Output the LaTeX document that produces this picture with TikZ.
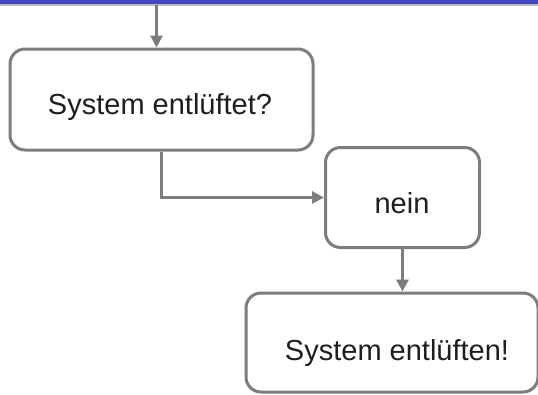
\documentclass[tikz,border=0pt]{standalone}
\usepackage{fontspec}
\setmainfont{Liberation Sans}
\usetikzlibrary{arrows.meta}
\definecolor{edge}{RGB}{125,125,125}
\definecolor{bar}{RGB}{68,68,196}
\definecolor{ink}{RGB}{30,30,30}
\tikzset{
  box/.style={draw=edge, line width=3pt, rounded corners=15pt, fill=white, inner sep=0pt},
  txt/.style={text=ink, font=\fontsize{29}{32}\selectfont, inner sep=0pt, anchor=base},
  conn/.style={draw=edge, line width=3pt, -{Triangle[length=12pt,width=12pt]}}
}
\begin{document}
\begin{tikzpicture}[x=1pt,y=-1pt]
\useasboundingbox (0,0) rectangle (538,394);
\begin{scope}
\clip (0,0) rectangle (538,394);
\fill[white] (0,0) rectangle (538,394);
\fill[gray!55] (0,3) rectangle (538,5.5);
\fill[bar] (0,0) rectangle (538,3.5);
\node[box, minimum width=303pt, minimum height=101pt] (b1) at (161.5,99.5) {};
\node[box, minimum width=154pt, minimum height=100pt] (b2) at (402.5,197.5) {};
\node[box, minimum width=292pt, minimum height=99pt] (b3) at (392,342.5) {};
\node[txt] (t1) at (160,114) {System entlüftet?};
\node[txt] (t2) at (402,213) {nein};
\node[txt] (t3) at (397,360) {System entlüften!};
\coordinate (top) at (156.5,5);
\draw[conn] (top) -- (top |- b1.north);
\draw[conn] (b1.south) |- (b2.west);
\draw[conn] (b2.south) -- (b3.north -| b2.south);
\end{scope}
\end{tikzpicture}
\end{document}
